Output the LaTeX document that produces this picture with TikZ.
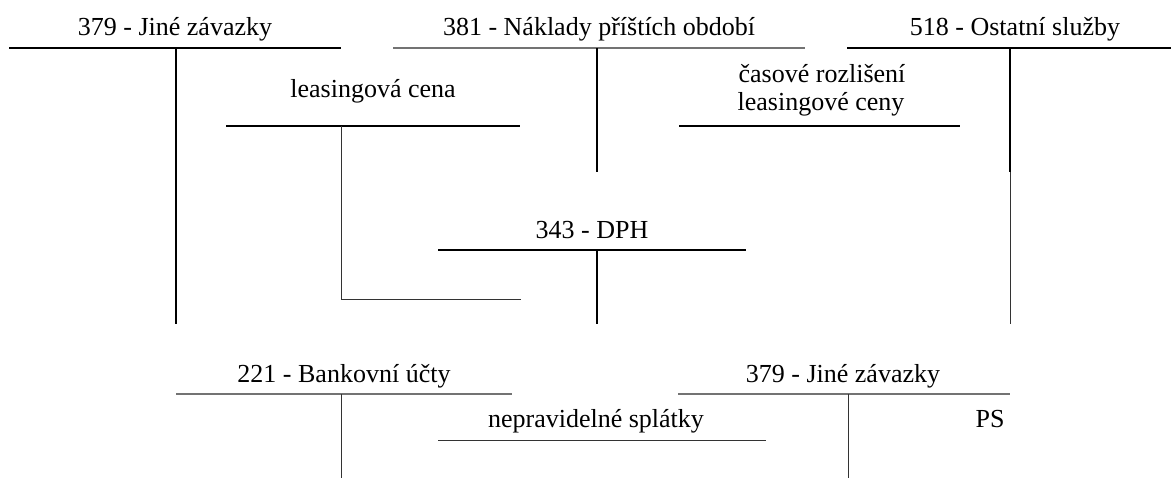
\documentclass[tikz,border=0pt]{standalone}
\usepackage{fontspec}
\setmainfont{Liberation Serif}
\begin{document}
\begin{tikzpicture}[x=1pt,y=-1pt,
  heavy/.style={line width=2.6pt, black},
  light/.style={line width=1pt, black!80},
  greyrule/.style={line width=1.6pt, black!55},
  lbl/.style={anchor=base, inner sep=0pt, font=\fontsize{26}{30}\selectfont},
  lbl2/.style={lbl, align=center, anchor=base}]
\useasboundingbox (0,0) rectangle (1171,480);

% 379 - Jiné závazky (top left)
\node[lbl] (t379a) at (175,35) {379 - Jiné závazky};
\coordinate (a379l) at (9,48);   \coordinate (a379r) at (341,48);
\coordinate (a379t) at (176,48); \coordinate (a379b) at (176,324);
\draw[heavy] (a379l) -- (a379r);
\draw[heavy] (a379t) -- (a379b);

% 381 - Náklady příštích období
\node[lbl] (t381) at (599,35) {381 - Náklady příštích období};
\coordinate (a381l) at (393,48);  \coordinate (a381r) at (805,48);
\coordinate (a381t) at (597,48);  \coordinate (a381b) at (597,172);
\draw[greyrule] (a381l) -- (a381r);
\draw[heavy] (a381t) -- (a381b);

% 518 - Ostatní služby
\node[lbl] (t518) at (1015,35) {518 - Ostatní služby};
\coordinate (a518l) at (847,48);  \coordinate (a518r) at (1171,48);
\coordinate (a518t) at (1010,48); \coordinate (a518m) at (1010,172);
\coordinate (a518b) at (1010,324);
\draw[heavy] (a518l) -- (a518r);
\draw[heavy] (a518t) -- (a518m);
\draw[light] (a518m) -- (a518b);

% leasingová cena
\node[lbl] (tlc) at (373,97) {leasingová cena};
\coordinate (lcl) at (226,126); \coordinate (lcr) at (520,126);
\coordinate (lct) at (341,126); \coordinate (lcb) at (341,299);
\coordinate (lce) at (521,299);
\draw[heavy] (lcl) -- (lcr);
\draw[light] (lct) -- (lcb) -- (lce);

% časové rozlišení leasingové ceny
\node[lbl] (tcr1) at (822,82) {časové rozlišení};
\node[lbl] (tcr2) at (821,110) {leasingové ceny};
\coordinate (crl) at (679,126); \coordinate (crr) at (960,126);
\draw[heavy] (crl) -- (crr);

% 343 - DPH
\node[lbl] (t343) at (592,238) {343 - DPH};
\coordinate (dphl) at (438,250); \coordinate (dphr) at (746,250);
\coordinate (dpht) at (597,250); \coordinate (dphb) at (597,324);
\draw[heavy] (dphl) -- (dphr);
\draw[heavy] (dpht) -- (dphb);

% 221 - Bankovní účty
\node[lbl] (t221) at (344,382) {221 - Bankovní účty};
\coordinate (bul) at (176,394); \coordinate (bur) at (512,394);
\coordinate (but) at (341,394); \coordinate (bub) at (341,478);
\draw[greyrule] (bul) -- (bur);
\draw[light] (but) -- (bub);

% nepravidelné splátky
\node[lbl] (tns) at (596,427) {nepravidelné splátky};
\coordinate (nsl) at (438,440); \coordinate (nsr) at (766,440);
\draw[light] (nsl) -- (nsr);

% 379 - Jiné závazky (bottom)
\node[lbl] (t379b) at (843,382) {379 - Jiné závazky};
\coordinate (b379l) at (678,394); \coordinate (b379r) at (1010,394);
\coordinate (b379t) at (848,394); \coordinate (b379b) at (848,478);
\draw[greyrule] (b379l) -- (b379r);
\draw[light] (b379t) -- (b379b);
\node[lbl] (tps) at (990,427) {PS};

\end{tikzpicture}
\end{document}
